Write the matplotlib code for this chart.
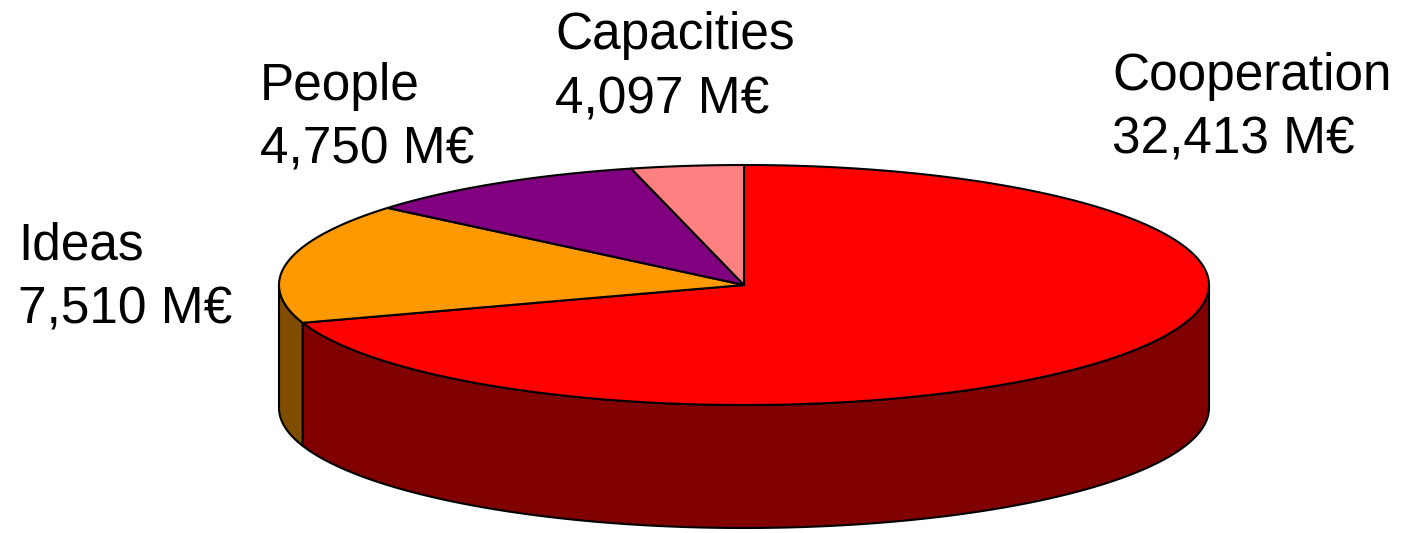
import numpy as np
import matplotlib.pyplot as plt
from matplotlib.patches import Polygon

# FP7 budget blocks, clockwise from 12 o'clock
names = ["Cooperation", "Ideas", "People", "Capacities"]
amounts = [32413, 7510, 4750, 4097]  # M€, as printed in the labels
# slice sizes as drawn in the picture (% of the circle)
drawn_pct = [69.9, 16.2, 10.0, 3.9]
top_colors = ["#FF0000", "#FF9900", "#800080", "#FF8080"]
side_colors = ["#800000", "#7F4C00", "#400040", "#804040"]

# label anchor (left x, first baseline) in pixel coords
label_pos = [(1112, 90), (18, 260), (260, 100), (555, 49)]

W, H = 1406, 533
cx, cy = 744, 285      # pie centre
a, b = 465, 120        # ellipse half axes
depth = 123            # thickness of the pie

fig = plt.figure(figsize=(W / 100, H / 100), dpi=100)
ax = fig.add_axes([0, 0, 1, 1])
ax.set_xlim(0, W)
ax.set_ylim(H, 0)
ax.axis("off")


def ell(t_deg, dy=0.0):
    t = np.radians(t_deg)
    return cx + a * np.cos(t), cy - b * np.sin(t) + dy


# start angles (parametric, degrees), going clockwise from the top
spans = 360 * np.array(drawn_pct) / np.sum(drawn_pct)
starts = 90 - np.concatenate([[0], np.cumsum(spans)[:-1]])
ends = starts - spans

# side walls: only the front half (sin t < 0) is visible
for s, e, col in zip(starts, ends, side_colors):
    for f_lo, f_hi in [(-540, -360), (-180, 0), (180, 360)]:
        lo, hi = max(e, f_lo), min(s, f_hi)
        if hi <= lo:
            continue
        t = np.linspace(hi, lo, 200)
        xt, yt = ell(t)
        xb, yb = ell(t[::-1], depth)
        pts = np.column_stack([np.r_[xt, xb], np.r_[yt, yb]])
        ax.add_patch(Polygon(pts, closed=True, facecolor=col,
                             edgecolor="black", linewidth=1.5, zorder=1))

# top faces
for s, e, col in zip(starts, ends, top_colors):
    t = np.linspace(s, e, 300)
    x, y = ell(t)
    pts = np.column_stack([np.r_[cx, x], np.r_[cy, y]])
    ax.add_patch(Polygon(pts, closed=True, facecolor=col,
                         edgecolor="black", linewidth=1.5, zorder=2))

# labels
for name, val, (lx, ly) in zip(names, amounts, label_pos):
    ax.text(lx, ly, name, fontsize=37, family="Liberation Sans",
            ha="left", va="baseline")
    ax.text(lx, ly + 64, f"{val:,} M€", fontsize=37, family="Liberation Sans",
            ha="left", va="baseline")

fig.savefig("out.png", dpi=100, facecolor="white")
